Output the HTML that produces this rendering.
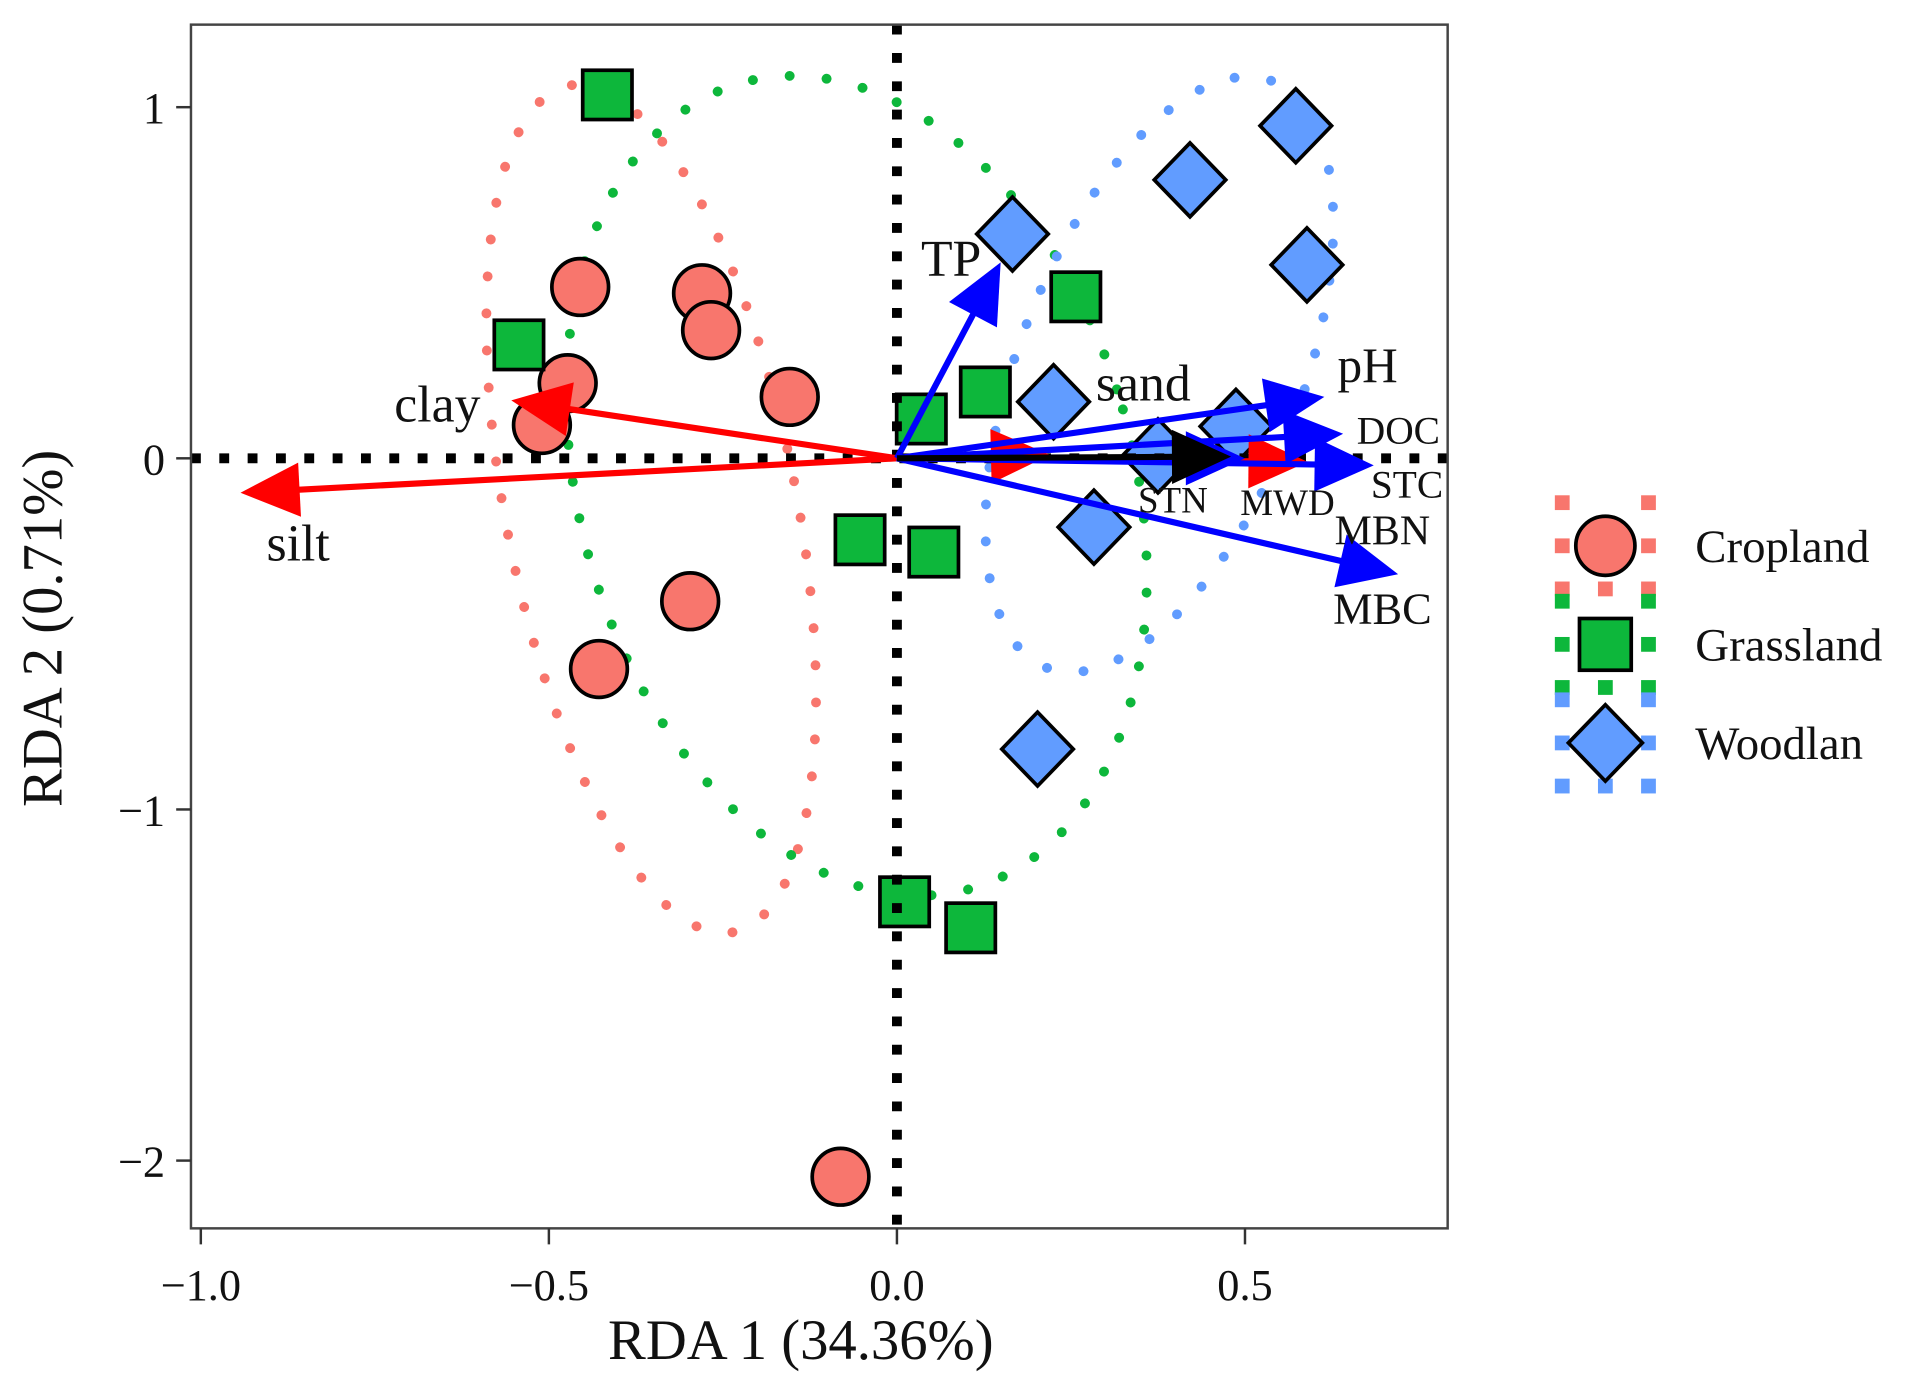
<!DOCTYPE html>
<html><head><meta charset="utf-8"><style>
html,body{margin:0;padding:0;background:#fff;}
svg{display:block;}
text{font-family:"Liberation Serif",serif;fill:#111;}
</style></head><body>
<svg id="chart" width="1922" height="1373" viewBox="0 0 1560 1114.4" xmlns="http://www.w3.org/2000/svg">
<g id="g-ell"></g>
<g id="g-pts"></g>
<g id="g-zero"></g>
<g id="g-arr"></g>
<g id="g-lab"></g>
<rect x="155" y="20" width="1020" height="977" fill="none" stroke="#444" stroke-width="2"/>
<g id="g-axes"></g>
<text x="650" y="1103" font-size="46" text-anchor="middle">RDA 1 (34.36%)</text>
<text x="50" y="510" font-size="46" text-anchor="middle" transform="rotate(-90 50 510)">RDA 2 (0.71%)</text>
<g id="g-leg"></g>
</svg>
<script>
const NS='http://www.w3.org/2000/svg';
const cropX=[-0.455,-0.280,-0.267,-0.473,-0.154,-0.510,-0.297,-0.428,-0.081];
const cropY=[0.488,0.470,0.365,0.214,0.175,0.095,-0.407,-0.600,-2.046];
const grassX=[-0.416,-0.543,0.035,0.127,0.257,-0.053,0.053,0.011,0.106];
const grassY=[1.035,0.323,0.112,0.189,0.460,-0.232,-0.267,-1.263,-1.337];
const woodX=[0.166,0.421,0.573,0.589,0.225,0.487,0.375,0.283,0.202];
const woodY=[0.639,0.793,0.947,0.551,0.161,0.091,0.007,-0.196,-0.828];
const arrNames=['clay','silt','sand','MBN','TP','STN','DOC','STC','MBC','pH','MWD'];
const arrX=[-0.554,-0.943,0.220,0.590,0.149,0.500,0.641,0.685,0.720,0.614,0.480];
const arrY=[0.165,-0.098,0.010,-0.010,0.558,0.000,0.070,-0.020,-0.330,0.175,0.005];
const arrCol=['red','red','red','red','blue','blue','blue','blue','blue','blue','black'];
const xTicks=[-1.0,-0.5,0.0,0.5];
const xTickLabels=['\u22121.0','\u22120.5','0.0','0.5'];
const yTicks=[1,0,-1,-2];
const yTickLabels=['1','0','\u22121','\u22122'];
const ellCx=[-0.353,-0.058,0.377];
const ellCy=[-0.144,-0.078,0.239];
const ellRx=[0.209,0.398,0.204];
const ellRy=[1.228,1.193,0.895];
const ellRot=[-11,-16,21];
const ellCol=['#F8766D','#0DB73B','#619CFF'];
const X=v=>728+v*565, Y=v=>372-v*285;
function mk(t,a,p){const e=document.createElementNS(NS,t);for(const k in a)e.setAttribute(k,a[k]);(p||document.getElementById('chart')).appendChild(e);return e;}
const gE=document.getElementById('g-ell'),gP=document.getElementById('g-pts'),gZ=document.getElementById('g-zero'),gA=document.getElementById('g-arr'),gL=document.getElementById('g-lab'),gX=document.getElementById('g-axes'),gG=document.getElementById('g-leg');
cropX.forEach((v,i)=>{const e=mk('circle',{cx:X(v),cy:Y(cropY[i]),r:23,fill:'#F8766D',stroke:'#000','stroke-width':3},gP);

});
grassX.forEach((v,i)=>{const e=mk('rect',{x:X(v)-20,y:Y(grassY[i])-20,width:40,height:40,fill:'#0DB73B',stroke:'#000','stroke-width':3},gP);

});
woodX.forEach((v,i)=>{const cx=X(v),cy=Y(woodY[i]);const e=mk('polygon',{points:`${cx},${cy-30} ${cx+29},${cy} ${cx},${cy+30} ${cx-29},${cy}`,fill:'#619CFF',stroke:'#000','stroke-width':3},gP);

});
const ellNames=['cropland-ellipse','grassland-ellipse','woodland-ellipse'];
ellCx.forEach((v,i)=>{const cx=X(v),cy=Y(ellCy[i]);const e=mk('ellipse',{cx:cx,cy:cy,rx:ellRx[i]*565,ry:ellRy[i]*285,fill:'none',stroke:ellCol[i],'stroke-width':8,'stroke-linecap':'round','stroke-dasharray':'0.1 30',transform:`rotate(${ellRot[i]} ${cx} ${cy})`},gE);

});
let z=mk('line',{x1:155,y1:372,x2:1175,y2:372,stroke:'#000','stroke-width':8,'stroke-dasharray':'8 15'},gZ);


z=mk('line',{x1:728,y1:20,x2:728,y2:997,stroke:'#000','stroke-width':8,'stroke-dasharray':'8 15'},gZ);


const ox=X(0),oy=Y(0);
arrX.forEach((v,i)=>{const tx=X(v),ty=Y(arrY[i]);const dx=tx-ox,dy=ty-oy,L=Math.hypot(dx,dy),ux=dx/L,uy=dy/L;
const hl=48,hw=22;const bx=tx-ux*hl,by=ty-uy*hl;
const g=mk('g',{},gA);


mk('line',{x1:ox,y1:oy,x2:bx+ux*4,y2:by+uy*4,stroke:arrCol[i],'stroke-width':5},g);
mk('polygon',{points:`${tx},${ty} ${bx-uy*hw},${by+ux*hw} ${bx+uy*hw},${by-ux*hw}`,fill:arrCol[i]},g);});
const labs=[['clay',355,342,42],['silt',242,455,42],['sand',928,325,42],['MBN',1122,442,34],['TP',772,224,42],['STN',952,416,30],['DOC',1135,360,32],['STC',1142,404,32],['MBC',1122,506,36],['pH',1110,310,40],['MWD',1045,418,30]];
labs.forEach(l=>{const t=mk('text',{x:l[1],y:l[2],'font-size':l[3],'text-anchor':'middle'},gL);t.textContent=l[0];

});
xTicks.forEach((v,i)=>{mk('line',{x1:X(v),y1:997,x2:X(v),y2:1010,stroke:'#333','stroke-width':2},gX);
const t=mk('text',{x:X(v),y:1055,'font-size':36,'text-anchor':'middle',fill:'#333'},gX);t.textContent=xTickLabels[i];

});
yTicks.forEach((v,i)=>{mk('line',{x1:143,y1:Y(v),x2:155,y2:Y(v),stroke:'#333','stroke-width':2},gX);
const t=mk('text',{x:134,y:Y(v)+13,'font-size':36,'text-anchor':'end',fill:'#333'},gX);t.textContent=yTickLabels[i];

});
const legN=['Cropland','Grassland','Woodlan'];
legN.forEach((n,i)=>{const cy=443+i*80,cx=1303;const g=mk('g',{},gG);


[[-35,-35],[0,-35],[35,-35],[-35,0],[35,0],[-35,35],[0,35],[35,35]].forEach(d=>{if(d[0]===0&&d[1]===-35)return;mk('rect',{x:cx+d[0]-6,y:cy+d[1]-6,width:12,height:12,fill:ellCol[i]},g);});
if(i===0)mk('circle',{cx:cx,cy:cy,r:24,fill:'#F8766D',stroke:'#000','stroke-width':3},g);
if(i===1)mk('rect',{x:cx-21,y:cy-21,width:42,height:42,fill:'#0DB73B',stroke:'#000','stroke-width':3},g);
if(i===2)mk('polygon',{points:`${cx},${cy-31} ${cx+30},${cy} ${cx},${cy+31} ${cx-30},${cy}`,fill:'#619CFF',stroke:'#000','stroke-width':3},g);
const t=mk('text',{x:1376,y:cy+13,'font-size':38},g);t.textContent=n;});
</script>
</body></html>
